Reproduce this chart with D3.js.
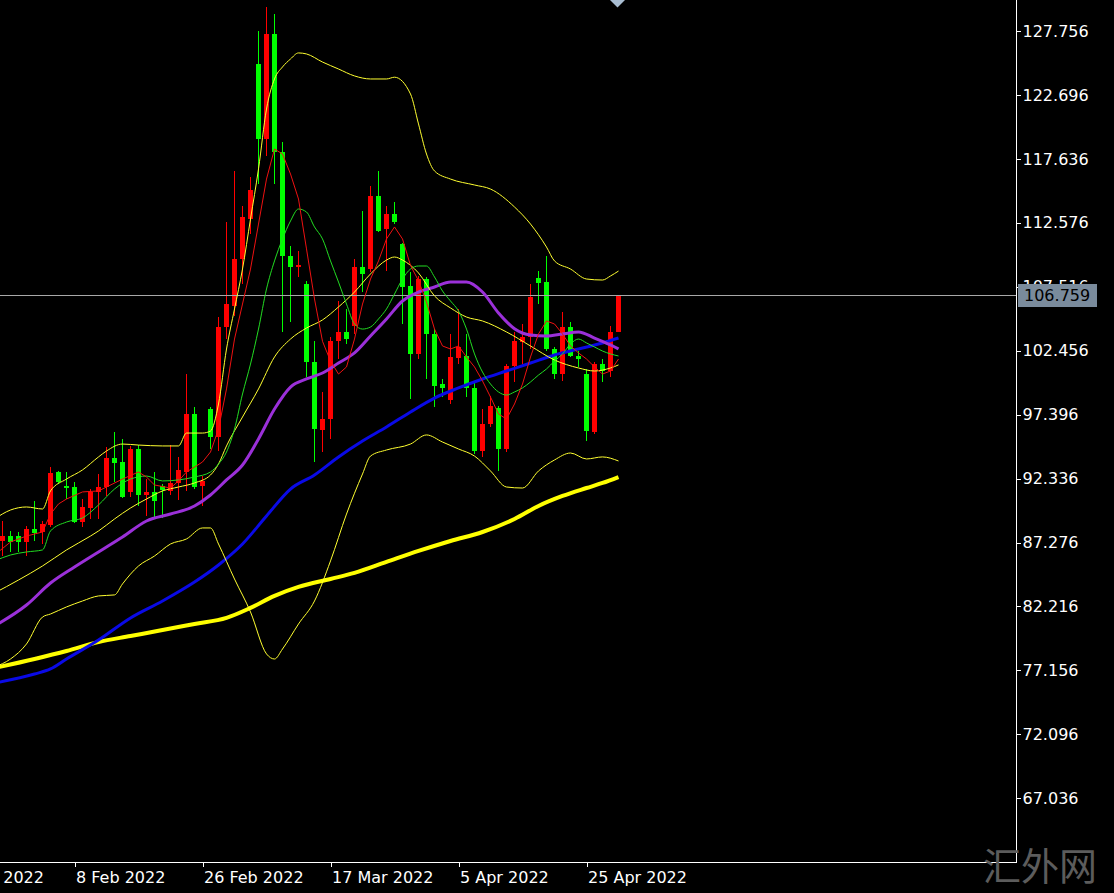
<!DOCTYPE html>
<html><head><meta charset="utf-8">
<script src="https://cdn.jsdelivr.net/npm/d3@7"></script>
<style>html,body{margin:0;padding:0;background:#000;overflow:hidden}</style>
</head><body>
<svg id="c" width="1114" height="893"></svg>
<script>
// ---- Candles (bar index 0..77) ----
const opens  = [87.42,87.77,87.77,87.34,88.35,88.09,88.66,92.83,91.77,91.65,88.88,89.99,91.25,91.65,93.97,93.67,91.28,94.68,91.04,91.25,91.77,91.38,91.99,92.83,97.45,91.73,97.84,95.60,104.31,105.99,109.71,112.88,125.14,119.21,127.52,118.18,109.95,109.08,107.74,101.56,96.18,97.05,103.22,103.94,104.41,109.08,108.92,114.70,112.09,113.27,110.90,107.58,102.20,108.13,103.78,99.82,98.56,101.88,102.04,99.51,94.52,96.66,97.92,94.68,101.25,103.15,103.54,108.21,107.89,102.59,100.61,104.33,102.04,100.61,96.02,101.40,100.85,103.94];
const highs  = [89.00,88.21,88.09,88.61,90.59,89.00,93.23,92.96,92.83,92.04,90.72,91.51,92.70,94.81,96.00,95.47,94.92,94.99,92.30,92.83,91.91,94.99,94.02,100.61,97.98,92.57,97.98,105.10,112.64,116.68,113.91,116.20,127.76,129.65,129.10,118.97,110.74,110.35,107.97,103.22,99.19,103.54,106.39,105.76,109.71,113.51,115.49,116.68,113.91,114.22,110.98,108.68,108.37,108.29,104.17,100.22,103.78,105.76,103.78,99.98,97.84,98.87,98.08,101.40,103.94,104.57,107.74,108.76,109.95,102.75,105.52,104.73,102.43,101.01,101.56,101.80,104.41,106.85];
const lows   = [86.23,86.50,86.50,86.23,87.42,87.16,88.48,91.91,90.72,88.82,88.48,89.14,89.14,90.98,92.04,90.78,90.88,90.17,89.38,89.14,89.22,91.04,90.64,91.38,91.51,90.19,94.68,94.52,103.38,105.20,107.74,111.69,115.65,117.86,115.65,103.94,104.73,108.29,100.38,93.65,94.44,95.47,101.80,102.99,103.78,107.10,108.68,111.85,108.76,112.48,104.57,98.63,101.80,100.22,98.00,98.79,98.24,101.40,98.79,94.28,94.05,96.42,92.94,94.44,99.98,101.40,102.59,106.15,102.43,100.22,100.06,101.96,101.17,95.31,95.87,99.98,100.38,103.90];
const closes = [87.82,87.34,87.34,88.35,88.03,88.72,92.78,92.04,91.59,88.88,90.11,91.25,91.70,93.97,93.59,90.86,94.68,91.04,91.30,90.59,91.46,91.99,93.04,97.45,91.65,92.12,95.60,104.31,106.15,109.71,113.04,115.17,119.21,127.52,118.18,109.95,109.08,109.24,101.56,96.26,97.05,103.22,103.94,103.38,109.08,108.53,114.70,111.93,113.27,112.64,107.50,102.20,108.13,103.78,99.66,99.51,101.96,102.75,99.51,94.52,96.66,98.08,94.68,101.25,103.22,103.54,106.71,107.81,102.59,100.61,104.33,102.04,101.80,96.10,101.40,100.85,103.94,106.759];

// ---- Axis ticks / labels ----
const priceTicks = [127.756,122.696,117.636,112.576,107.516,102.456,97.396,92.336,87.276,82.216,77.156,72.096,67.036];
const dateTickBars = [-7,9,25,41,57,73];
const dateTickLabels = ["20 Jan 2022","8 Feb 2022","26 Feb 2022","17 Mar 2022","5 Apr 2022","25 Apr 2022"];
const bidPrice = 106.759;

// ---- Indicator lines (bar index, value) ----
const ma5Idx = [-1,1,3,5,6,7,8,10,12,13,15,17,18,19,21,22,23,24,25,26,27,28,29,30,31,32,33,34,35,36,37,38,39,40,41,42,43,44,45,46,47,48,49,50,51,52,53,54,55,56,57,58,59,60,61,62,63,64,65,66,67,68,69,70,71,72,73,74,75,76,77];
const ma5Val = [86.29,87.32,87.79,88.11,89.53,90.33,90.72,91.28,91.36,91.67,92.30,92.86,92.46,91.83,91.59,92.15,92.86,93.25,93.65,94.44,96.26,99.43,103.38,106.15,108.92,112.48,116.04,118.42,118.02,116.44,114.46,110.51,106.55,103.20,101.64,100.61,101.17,103.38,106.15,108.13,109.56,111.30,112.25,111.30,109.20,108.00,106.30,104.17,102.83,102.59,102.83,101.96,101.17,100.06,98.79,97.45,97.05,98.24,99.82,101.96,103.78,104.81,104.57,103.78,102.83,102.28,101.80,101.17,100.61,100.85,101.80];

const ma10Idx = [-1,1,3,5,6,8,10,12,14,16,18,20,22,24,26,27,28,29,30,31,32,33,34,35,36,37,38,39,40,41,42,43,44,45,46,47,48,49,50,51,52,53,54,55,56,57,58,59,60,61,62,63,64,65,66,67,68,69,70,71,72,73,74,75,76,77];
const ma10Val = [85.82,86.29,86.53,86.69,88.19,88.90,89.22,90.25,91.51,92.30,92.54,92.15,92.23,92.46,92.86,93.49,94.44,96.26,99.03,101.40,104.17,107.34,109.56,111.30,112.72,113.67,113.43,112.25,111.30,109.56,107.89,106.15,104.57,104.17,104.33,104.97,105.76,106.94,108.13,108.92,109.16,109.16,108.29,107.18,106.39,105.60,104.17,102.20,100.77,99.82,99.19,98.95,99.19,99.51,99.98,100.53,101.01,101.64,102.20,102.99,103.38,103.07,102.75,102.43,102.20,102.04];

const bbUpIdx = [-1,1,3,5,6,8,10,12,13,15,17,20,22,23,25,26,27,28,29,30,31,32,33,34,35,36,37,38,40,42,44,46,48,49,51,52,53,54,56,59,61,64,66,68,69,71,73,75,76,77];
const bbUpVal = [89.14,89.85,90.09,89.93,91.36,92.30,93.02,94.05,94.52,95.07,94.99,94.92,94.92,95.94,95.94,96.10,98.24,102.59,105.76,108.92,112.88,116.84,121.58,123.96,124.91,125.54,126.02,125.94,125.30,124.75,124.20,123.96,123.96,124.10,122.77,120.40,118.02,116.68,116.04,115.57,115.25,113.83,112.48,110.66,109.56,108.92,108.13,108.05,108.37,108.76];

const bbMidIdx = [-1,2,5,8,11,12,14,16,18,20,22,24,26,27,28,30,32,34,36,38,40,42,44,46,48,49,50,52,54,56,58,60,63,66,69,72,74,76,77];
const bbMidVal = [83.28,84.31,85.42,86.69,87.79,88.19,89.14,90.01,90.72,91.36,91.67,91.99,92.62,93.49,94.92,97.21,99.43,101.96,103.38,104.25,104.89,105.92,107.10,108.53,109.63,109.87,109.63,108.61,106.79,105.84,105.12,104.81,103.94,102.83,101.72,101.09,100.85,101.09,101.33];

const bbLowIdx = [-1,1,3,5,6,8,10,12,14,15,17,19,21,23,25,26,27,29,31,33,34,35,37,39,41,43,45,46,48,51,53,55,57,59,61,63,65,67,69,71,73,75,77];
const bbLowVal = [77.43,78.06,79.25,81.38,81.62,82.18,82.65,83.05,83.13,84.00,85.42,86.21,87.16,87.56,88.43,88.43,87.16,84.39,81.78,78.46,78.06,78.85,80.83,82.65,85.82,89.53,92.70,94.12,94.60,95.07,95.79,95.23,94.68,94.12,92.94,91.67,91.59,92.94,93.81,94.36,93.89,94.05,93.73];

const maPurpleIdx = [-1,3,6,9,12,15,18,21,24,26,28,30,32,34,36,38,40,42,44,46,48,50,52,54,56,58,60,62,64,66,68,70,72,74,76,77];
const maPurpleVal = [80.67,82.33,84.07,85.34,86.53,87.71,88.98,89.53,90.17,91.04,92.23,93.41,95.47,97.84,99.58,100.22,100.69,101.48,102.28,103.62,104.97,106.39,107.10,107.50,107.89,107.89,107.10,105.44,104.20,103.70,103.62,103.78,103.94,103.46,102.91,102.59];

const maBlueIdx = [-1,4,6,8,12,16,20,24,27,30,33,36,39,42,45,48,51,54,57,60,63,66,69,72,75,77];
const maBlueVal = [76.16,76.87,77.27,78.06,79.56,81.31,82.65,84.15,85.50,87.16,89.38,91.51,92.62,94.05,95.31,96.42,97.61,98.71,99.51,100.22,100.85,101.48,102.12,102.59,103.07,103.46];

const maYellowIdx = [-1,4,8,12,16,20,24,28,31,34,37,41,44,48,52,56,60,64,67,70,73,75,77];
const maYellowVal = [77.35,78.06,78.69,79.41,79.88,80.35,80.83,81.31,82.10,83.05,83.76,84.39,84.87,85.74,86.61,87.40,88.11,89.14,90.17,90.96,91.59,91.99,92.46];

// ---- Drawing ----
const W = 1114, H = 893, plotR = 1016, plotB = 862;
const svg = d3.select("#c");
svg.append("rect").attr("width", W).attr("height", H).attr("fill", "#000");

const x = d3.scaleLinear().domain([-0.3125, 126.6875]).range([0, plotR]);
const y = d3.scaleLinear().domain([127.756, 67.036]).range([31, 798.3]);

svg.append("defs").append("clipPath").attr("id", "plot")
  .append("rect").attr("x", 0).attr("y", 0).attr("width", plotR).attr("height", plotB);

const plot = svg.append("g").attr("clip-path", "url(#plot)");

// candles
const bars = d3.range(opens.length).map(i => ({i, o: opens[i], h: highs[i], l: lows[i], c: closes[i]}));
const col = d => d.c >= d.o ? "#ff0000" : "#00ff00";
const cg = plot.append("g").attr("shape-rendering", "crispEdges");
cg.selectAll("line.w").data(bars).join("line")
  .attr("x1", d => x(d.i)).attr("x2", d => x(d.i))
  .attr("y1", d => y(d.h)).attr("y2", d => y(d.l))
  .attr("stroke", col).attr("stroke-width", 1);
cg.selectAll("rect.b").data(bars).join("rect")
  .attr("x", d => x(d.i) - 2.5).attr("width", 5)
  .attr("y", d => y(Math.max(d.o, d.c)))
  .attr("height", d => Math.max(1, y(Math.min(d.o, d.c)) - y(Math.max(d.o, d.c))))
  .attr("fill", col);

// bid line
plot.append("line").attr("x1", 0).attr("x2", plotR)
  .attr("y1", Math.round(y(bidPrice)) - 0.5).attr("y2", Math.round(y(bidPrice)) - 0.5)
  .attr("stroke", "#a8a8a8").attr("stroke-width", 1);

// indicator lines
function drawLine(idx, vals, color, width, curve) {
  const pts = idx.map((k, j) => [k, vals[j]]);
  const gen = d3.line().x(d => x(d[0])).y(d => y(d[1])).curve(curve || d3.curveMonotoneX);
  plot.append("path").datum(pts).attr("d", gen)
    .attr("fill", "none").attr("stroke", color).attr("stroke-width", width)
    .attr("stroke-linejoin", "round");
}
drawLine(maYellowIdx, maYellowVal, "#ffff00", 4);
drawLine(maBlueIdx, maBlueVal, "#0a0ae6", 3);
drawLine(maPurpleIdx, maPurpleVal, "#9b30d9", 3);
drawLine(bbUpIdx, bbUpVal, "#ffff30", 1);
drawLine(bbLowIdx, bbLowVal, "#ffff30", 1);
drawLine(bbMidIdx, bbMidVal, "#ffff30", 1);
drawLine(ma10Idx, ma10Val, "#22dd22", 1);
drawLine(ma5Idx, ma5Val, "#ee1111", 1, d3.curveLinear);

// chart-shift marker
svg.append("path").attr("d", d3.line()([[610, 0], [625, 0], [617.5, 7.5]]) + "Z").attr("fill", "#a9bdd2");

// frame
svg.append("line").attr("x1", plotR + 0.5).attr("x2", plotR + 0.5).attr("y1", 0).attr("y2", plotB + 0.5)
  .attr("stroke", "#fff").attr("stroke-width", 1);
svg.append("line").attr("x1", 0).attr("x2", plotR + 1).attr("y1", plotB + 0.5).attr("y2", plotB + 0.5)
  .attr("stroke", "#fff").attr("stroke-width", 1);

const font = "'DejaVu Sans', Verdana, sans-serif";

// price axis
const ya = svg.append("g").attr("transform", `translate(${plotR + 0.5},0)`)
  .call(d3.axisRight(y).tickValues(priceTicks).tickFormat(d3.format(".3f")).tickSize(4).tickPadding(2));
ya.select(".domain").remove();
ya.selectAll("line").attr("stroke", "#fff").attr("shape-rendering", "crispEdges");
ya.selectAll("text").attr("fill", "#fff").style("font-family", font).style("font-size", "16px");

// date axis
const xa = svg.append("g").attr("transform", `translate(0,${plotB + 0.5})`)
  .call(d3.axisBottom(x).tickValues(dateTickBars).tickFormat((d, i) => dateTickLabels[i]).tickSize(4).tickPadding(5));
xa.select(".domain").remove();
xa.selectAll("line").attr("stroke", "#fff").attr("shape-rendering", "crispEdges");
xa.selectAll("text").attr("fill", "#fff").attr("text-anchor", "start").attr("x", 1)
  .style("font-family", font).style("font-size", "16px");

// bid label
const by = Math.round(y(bidPrice)) - 1;
svg.append("rect").attr("x", 1018).attr("y", by - 11).attr("width", 79).attr("height", 23).attr("fill", "#7a8b9c");
svg.append("text").attr("x", 1024).attr("y", by + 6).text(d3.format(".3f")(bidPrice))
  .attr("fill", "#000").style("font-family", font).style("font-size", "16px");

// watermark
svg.append("text").attr("x", 983).attr("y", 880).text("汇外网")
  .attr("fill", "#5c5c5c").style("font-family", "'Noto Sans CJK SC', sans-serif").style("font-size", "38px");
</script>
</body></html>
